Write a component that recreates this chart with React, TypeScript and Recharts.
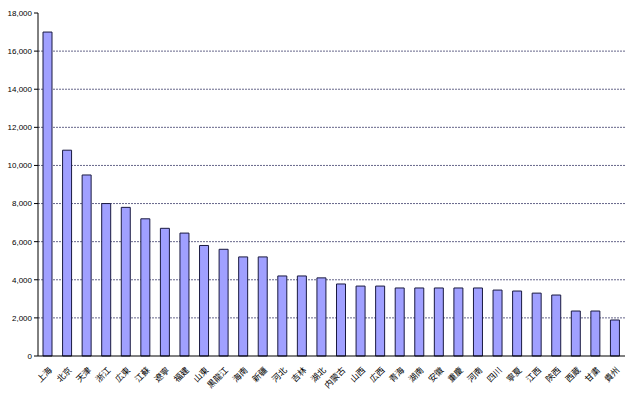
import { BarChart, Bar, XAxis, YAxis, CartesianGrid } from 'recharts'

const regions = ['上海', '北京', '天津', '浙江', '広東', '江蘇', '遼寧', '福建', '山東', '黒龍江', '海南', '新疆', '河北', '吉林', '湖北', '内蒙古', '山西', '広西', '青海', '湖南', '安徽', '重慶', '河南', '四川', '寧夏', '江西', '陝西', '西蔵', '甘粛', '貴州']
const values = [17000, 10800, 9500, 8000, 7800, 7200, 6700, 6450, 5800, 5600, 5200, 5200, 4200, 4200, 4100, 3780, 3670, 3670, 3570, 3570, 3570, 3570, 3570, 3460, 3410, 3300, 3200, 2360, 2360, 1890]
const yTicks = [0, 2000, 4000, 6000, 8000, 10000, 12000, 14000, 16000, 18000]
const gridValues = [2000, 4000, 6000, 8000, 10000, 12000, 14000, 16000]

const data = regions.map((name, i) => ({ name, value: values[i] }))

const XTick = (props: any) => {
  const { x, y, payload } = props
  return (
    <g transform={`translate(${x + 2},${y + 4})`}>
      <text transform="rotate(-45)" textAnchor="end" dy={4} fontSize={8.5} fill="#000" fontFamily="'Noto Sans CJK JP'">
        {payload.value}
      </text>
    </g>
  )
}

const App = () => {
  return (
    <div style={{ position: 'absolute', left: 0, top: 0, width: 635, height: 393, background: '#fff' }}>
      <BarChart width={635} height={393} data={data} margin={{ top: 13, right: 10, bottom: 0, left: 0 }} barCategoryGap={5}>
        <CartesianGrid vertical={false} horizontalValues={gridValues} stroke="#66668a" strokeDasharray="2 1" />
        <XAxis dataKey="name" interval={0} height={37} tick={<XTick />} tickLine={false} stroke="#000" />
        <YAxis
          width={38}
          domain={[0, 18000]}
          ticks={yTicks}
          tickFormatter={(v: number) => v.toLocaleString('en-US')}
          tick={{ fontSize: 8, fill: '#000', fontFamily: 'Liberation Sans' }}
          tickSize={4}
          stroke="#000"
        />
        <Bar dataKey="value" fill="#a0a0ff" stroke="#1a1a40" strokeWidth={1} barSize={9} isAnimationActive={false} />
      </BarChart>
    </div>
  )
}

export default App
